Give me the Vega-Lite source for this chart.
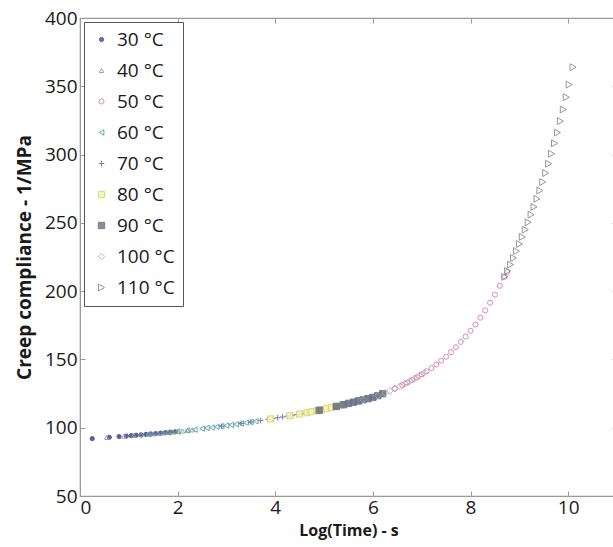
{
"$schema": "https://vega.github.io/schema/vega-lite/v6.json",
"autosize": {"type": "none"},
"padding": {"left": 80, "top": 18, "right": 0, "bottom": 51},
"width": 537,
"height": 478,
"background": "white",
"config": {
  "font": "Open Sans",
  "view": {"stroke": "#9a9a9a", "strokeWidth": 1.2},
  "axis": {"labelFont": "Open Sans", "titleFont": "Open Sans", "labelFontSize": 19, "labelColor": "#1a1a1a", "titleColor": "#1a1a1a", "titleFontSize": 17, "titleFontWeight": "bold", "grid": false, "domainColor": "#9a9a9a", "tickColor": "#9a9a9a", "tickSize": -5, "labelPadding": 4},
  "legend": {"labelFont": "Open Sans", "labelFontSize": 19, "labelColor": "#1a1a1a"}
},
"data": {"values": [
{"t":"30 °C","x":0.25,"y":92},{"t":"30 °C","x":0.6,"y":93},{"t":"30 °C","x":0.8,"y":93.5},{"t":"30 °C","x":0.95,"y":93.9},{"t":"30 °C","x":1.05,"y":94.2},{"t":"30 °C","x":1.15,"y":94.5},{"t":"30 °C","x":1.25,"y":94.8},{"t":"30 °C","x":1.35,"y":95.1},{"t":"30 °C","x":1.45,"y":95.4},{"t":"30 °C","x":1.55,"y":95.7},{"t":"30 °C","x":1.65,"y":96},{"t":"30 °C","x":1.75,"y":96.4},{"t":"30 °C","x":1.85,"y":96.7},{"t":"30 °C","x":1.95,"y":97},
{"t":"40 °C","x":0.55,"y":92.9},{"t":"40 °C","x":0.9,"y":93.8},{"t":"40 °C","x":1.1,"y":94.3},{"t":"40 °C","x":1.25,"y":94.8},{"t":"40 °C","x":1.4,"y":95.2},{"t":"40 °C","x":1.5,"y":95.5},{"t":"40 °C","x":1.6,"y":95.9},{"t":"40 °C","x":1.7,"y":96.2},{"t":"40 °C","x":1.8,"y":96.5},{"t":"40 °C","x":1.9,"y":96.9},{"t":"40 °C","x":2.0,"y":97.2},{"t":"40 °C","x":2.1,"y":97.6},{"t":"40 °C","x":2.2,"y":98},{"t":"40 °C","x":2.3,"y":98.4},
{"t":"60 °C","x":1.4,"y":95.2},{"t":"60 °C","x":1.8,"y":96.5},{"t":"60 °C","x":2.0,"y":97.2},{"t":"60 °C","x":2.2,"y":98},{"t":"60 °C","x":2.35,"y":98.6},{"t":"60 °C","x":2.5,"y":99.3},{"t":"60 °C","x":2.6,"y":99.8},{"t":"60 °C","x":2.7,"y":100.2},{"t":"60 °C","x":2.8,"y":100.7},{"t":"60 °C","x":2.9,"y":101.1},{"t":"60 °C","x":3.0,"y":101.6},{"t":"60 °C","x":3.1,"y":102.1},{"t":"60 °C","x":3.2,"y":102.6},{"t":"60 °C","x":3.3,"y":103.1},{"t":"60 °C","x":3.4,"y":103.7},{"t":"60 °C","x":3.5,"y":104.2},{"t":"60 °C","x":3.6,"y":104.8},
{"t":"70 °C","x":2.9,"y":101.1},{"t":"70 °C","x":3.3,"y":103.1},{"t":"70 °C","x":3.5,"y":104.2},{"t":"70 °C","x":3.7,"y":105.3},{"t":"70 °C","x":3.85,"y":106.2},{"t":"70 °C","x":3.95,"y":106.7},{"t":"70 °C","x":4.05,"y":107.3},{"t":"70 °C","x":4.15,"y":107.9},{"t":"70 °C","x":4.25,"y":108.5},{"t":"70 °C","x":4.35,"y":109.1},{"t":"70 °C","x":4.45,"y":109.7},{"t":"70 °C","x":4.55,"y":110.3},{"t":"70 °C","x":4.65,"y":111},
{"t":"80 °C","x":3.9,"y":106.4},{"t":"80 °C","x":4.3,"y":108.8},{"t":"80 °C","x":4.5,"y":110},{"t":"80 °C","x":4.65,"y":111},{"t":"80 °C","x":4.75,"y":111.7},{"t":"80 °C","x":4.85,"y":112.4},{"t":"80 °C","x":4.95,"y":113.1},{"t":"80 °C","x":5.05,"y":113.9},{"t":"80 °C","x":5.15,"y":114.7},{"t":"80 °C","x":5.25,"y":115.6},{"t":"80 °C","x":5.35,"y":116.5},
{"t":"90 °C","x":4.9,"y":112.8},{"t":"90 °C","x":5.25,"y":115.6},{"t":"90 °C","x":5.4,"y":116.9},{"t":"90 °C","x":5.5,"y":117.8},{"t":"90 °C","x":5.6,"y":118.7},{"t":"90 °C","x":5.7,"y":119.6},{"t":"90 °C","x":5.8,"y":120.5},{"t":"90 °C","x":5.9,"y":121.3},{"t":"90 °C","x":6.0,"y":122.2},{"t":"90 °C","x":6.1,"y":123.5},{"t":"90 °C","x":6.2,"y":124.9},
{"t":"100 °C","x":5.8,"y":120.5},{"t":"100 °C","x":6.1,"y":123.5},{"t":"100 °C","x":6.25,"y":125.5},{"t":"100 °C","x":6.35,"y":127},{"t":"100 °C","x":6.45,"y":128.6},{"t":"100 °C","x":6.55,"y":130.3},{"t":"100 °C","x":6.65,"y":132.1},{"t":"100 °C","x":6.75,"y":134},{"t":"100 °C","x":6.85,"y":136},{"t":"100 °C","x":6.95,"y":138},{"t":"100 °C","x":7.05,"y":140.1},
{"t":"50 °C","x":6.45,"y":128.7},{"t":"50 °C","x":6.6,"y":131.2},{"t":"50 °C","x":6.7,"y":133},{"t":"50 °C","x":6.8,"y":134.9},{"t":"50 °C","x":6.9,"y":136.9},{"t":"50 °C","x":7.0,"y":139},{"t":"50 °C","x":7.1,"y":141.3},{"t":"50 °C","x":7.2,"y":143.7},{"t":"50 °C","x":7.3,"y":146.3},{"t":"50 °C","x":7.4,"y":149.1},{"t":"50 °C","x":7.5,"y":152},{"t":"50 °C","x":7.6,"y":155.3},{"t":"50 °C","x":7.7,"y":158.9},{"t":"50 °C","x":7.8,"y":162.8},{"t":"50 °C","x":7.9,"y":166.8},{"t":"50 °C","x":8.0,"y":171},{"t":"50 °C","x":8.1,"y":175.6},{"t":"50 °C","x":8.2,"y":180.6},{"t":"50 °C","x":8.3,"y":185.9},{"t":"50 °C","x":8.4,"y":191.5},{"t":"50 °C","x":8.5,"y":197.5},{"t":"50 °C","x":8.6,"y":203.9},{"t":"50 °C","x":8.7,"y":210.5},{"t":"50 °C","x":8.75,"y":214},
{"t":"110 °C","x":8.7,"y":210.5},{"t":"110 °C","x":8.76,"y":214.8},{"t":"110 °C","x":8.82,"y":219.4},{"t":"110 °C","x":8.88,"y":224.3},{"t":"110 °C","x":8.94,"y":229.3},{"t":"110 °C","x":9.0,"y":234.5},{"t":"110 °C","x":9.06,"y":239.7},{"t":"110 °C","x":9.12,"y":245},{"t":"110 °C","x":9.18,"y":250.4},{"t":"110 °C","x":9.24,"y":256},{"t":"110 °C","x":9.3,"y":261.7},{"t":"110 °C","x":9.36,"y":267.6},{"t":"110 °C","x":9.42,"y":273.7},{"t":"110 °C","x":9.48,"y":279.9},{"t":"110 °C","x":9.54,"y":286.5},{"t":"110 °C","x":9.6,"y":293.3},{"t":"110 °C","x":9.66,"y":300.6},{"t":"110 °C","x":9.72,"y":308.2},{"t":"110 °C","x":9.78,"y":316.1},{"t":"110 °C","x":9.84,"y":324.5},{"t":"110 °C","x":9.9,"y":333},{"t":"110 °C","x":9.96,"y":342},{"t":"110 °C","x":10.02,"y":351.2},{"t":"110 °C","x":10.1,"y":364}
]},
"layer": [
{
"mark": {"type": "point", "opacity": 0, "size": 1},
"encoding": {
  "x": {"field": "x", "type": "quantitative", "scale": {"domain": [0, 11], "nice": false, "zero": false}, "axis": {"orient": "top", "values": [0, 2, 4, 6, 8, 10], "labels": false, "title": null, "domain": false}},
  "y": {"field": "y", "type": "quantitative", "scale": {"domain": [50, 400], "nice": false, "zero": false}, "axis": {"orient": "right", "values": [50, 100, 150, 200, 250, 300, 350, 400], "labels": false, "title": null, "domain": false}}
}
},
{
"mark": {"type": "point", "strokeWidth": 1, "opacity": 0.9},
"encoding": {
  "x": {"field": "x", "type": "quantitative", "title": "Log(Time) - s", "scale": {"domain": [0, 11], "nice": false, "zero": false}, "axis": {"orient": "bottom", "values": [0, 2, 4, 6, 8, 10], "labelPadding": 7, "titlePadding": 5, "titleFontSize": 16}},
  "y": {"field": "y", "type": "quantitative", "title": "Creep compliance - 1/MPa", "scale": {"domain": [50, 400], "nice": false, "zero": false}, "axis": {"orient": "left", "values": [50, 100, 150, 200, 250, 300, 350, 400], "labelPadding": 8, "titlePadding": 10, "titleFontSize": 19}},
  "shape": {"field": "t", "type": "nominal", "title": null, "scale": {"domain": ["30 °C","40 °C","50 °C","60 °C","70 °C","80 °C","90 °C","100 °C","110 °C"], "range": ["circle","triangle-up","circle","triangle-left","M-1,0H1M0,-1V1","square","square","diamond","triangle-right"]},
    "legend": {"orient": "top-left", "offset": 4, "strokeColor": "#555", "fillColor": "white", "padding": 8, "rowPadding": 11, "symbolStrokeWidth": 1, "labelOffset": 6, "symbolSize": 45, "labelExpr": "datum.label + '\u00a0\u00a0\u00a0'"}},
  "stroke": {"field": "t", "type": "nominal", "title": null, "scale": {"domain": ["30 °C","40 °C","50 °C","60 °C","70 °C","80 °C","90 °C","100 °C","110 °C"], "range": ["#4b4b9b","#8fa08f","#d97fae","#4fa5a0","#7070b0","#d8d860","#6a7386","#b0b0b0","#8c8c8c"]}},
  "fill": {"field": "t", "type": "nominal", "title": null, "scale": {"domain": ["30 °C","40 °C","50 °C","60 °C","70 °C","80 °C","90 °C","100 °C","110 °C"], "range": ["#4b4b9b","transparent","transparent","transparent","transparent","#f2f2c0","#6a7386","transparent","transparent"]}},
  "size": {"field": "t", "type": "nominal", "title": null, "scale": {"domain": ["30 °C","40 °C","50 °C","60 °C","70 °C","80 °C","90 °C","100 °C","110 °C"], "range": [18, 48, 36, 48, 48, 34, 12, 40, 50]}}
}
}
],
"resolve": {"axis": {"x": "independent", "y": "independent"}}
}
